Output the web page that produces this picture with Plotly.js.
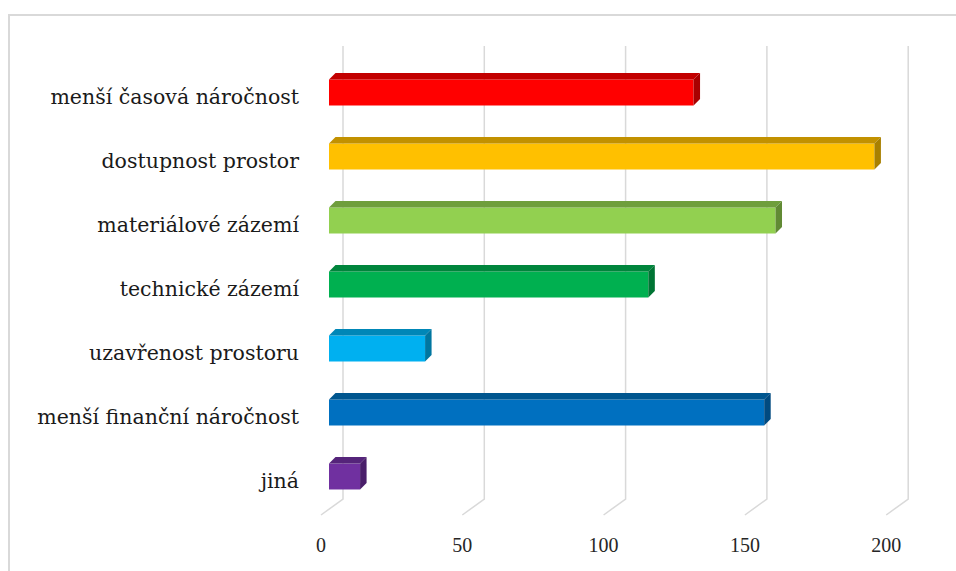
<!DOCTYPE html>
<html>
<head>
<meta charset="utf-8">
<script src="https://cdn.plot.ly/plotly-3.0.1.min.js"></script>
<style>
  html, body { margin: 0; padding: 0; background: #fff; }
  #chart { width: 956px; height: 571px; }
</style>
</head>
<body>
<div id="chart"></div>
<script>
// ---- data (bottom to top) ----
const categories = ['jiná', 'menší finanční náročnost', 'uzavřenost prostoru', 'technické zázemí', 'materiálové zázemí', 'dostupnost prostor', 'menší časová náročnost'];
const values = [11, 154, 34, 113, 158, 193, 129];
const tickVals = [0, 50, 100, 150, 200];
const frontColors = ['#7030A0', '#0070C0', '#00B0F0', '#00B050', '#92D050', '#FFC000', '#FF0000'];
const topColors   = ['#55247A', '#00568F', '#0087B7', '#00853C', '#6F9E3C', '#C29100', '#C20000'];
const sideColors  = ['#4A1F6A', '#004A80', '#0076A0', '#007434', '#618A34', '#A88000', '#A80000'];

// ---- geometry (pixels) ----
const W = 956, H = 571, L = 300, R = 10, T = 40, B = 40;
const plotW = W - L - R, plotH = H - T - B;
const xUnit = 2.826;          // px per value
const floorX0 = 321;          // px of value 0 on the front floor edge (tick labels)
const barX0 = 329;            // px of value 0 on bar front face
const yUnit = 64;             // px per category
const yK0 = 476.5;            // px of first category centre
const barW = 0.406;
const depthPx = 6.5;

const toK = px => (yK0 - px) / yUnit;
const xRange1 = [(L - floorX0) / xUnit, (L + plotW - floorX0) / xUnit];
const xRange2 = [(L - barX0) / xUnit, (L + plotW - barX0) / xUnit];
const yRange = [toK(T + plotH), toK(T)];

const pos = categories.map((c, i) => i);

// gridlines (back wall + floor slant) on the front-floor axis
const gx = [], gy = [];
const backShift = 22 / xUnit;
tickVals.forEach(t => {
  gx.push(t + backShift, t + backShift, t, null);
  gy.push(toK(46), toK(499), toK(515), null);
});
const traces = [{
  type: 'scatter', mode: 'lines', x: gx, y: gy, xaxis: 'x', yaxis: 'y',
  line: { color: '#d9d9d9', width: 1.5 }, hoverinfo: 'skip', showlegend: false
}];

// bars front faces
traces.push({
  type: 'bar', orientation: 'h', x: values, y: pos, base: 0, width: barW,
  xaxis: 'x2', yaxis: 'y',
  marker: { color: frontColors, line: { width: 0 } },
  hoverinfo: 'x', showlegend: false
});

// 3D top and side faces
const dx = depthPx / xUnit, dy = depthPx / yUnit, hw = barW / 2;
values.forEach((v, i) => {
  const k = pos[i];
  traces.push({
    type: 'scatter', mode: 'lines', fill: 'toself', xaxis: 'x2', yaxis: 'y',
    x: [0, v, v + dx, dx, 0],
    y: [k + hw, k + hw, k + hw + dy, k + hw + dy, k + hw],
    fillcolor: topColors[i], line: { width: 0, color: topColors[i] },
    hoverinfo: 'skip', showlegend: false
  });
  traces.push({
    type: 'scatter', mode: 'lines', fill: 'toself', xaxis: 'x2', yaxis: 'y',
    x: [v, v + dx, v + dx, v, v],
    y: [k - hw, k - hw + dy, k + hw + dy, k + hw, k - hw],
    fillcolor: sideColors[i], line: { width: 0, color: sideColors[i] },
    hoverinfo: 'skip', showlegend: false
  });
});

const layout = {
  width: W, height: H,
  margin: { l: L, r: R, t: T, b: B },
  paper_bgcolor: '#ffffff', plot_bgcolor: 'rgba(0,0,0,0)',
  showlegend: false,
  xaxis: {
    range: xRange1, tickvals: tickVals, ticktext: tickVals.map(String),
    showgrid: false, zeroline: false, showline: false, ticks: '',
    tickfont: { family: 'Liberation Serif', size: 20, color: '#262626' },
    fixedrange: true
  },
  xaxis2: {
    range: xRange2, overlaying: 'x', anchor: 'y', visible: false, fixedrange: true
  },
  yaxis: {
    range: yRange, tickvals: pos.map(p => p - 0.07), ticktext: categories,
    showgrid: false, zeroline: false, showline: false, ticks: '',
    tickfont: { family: 'DejaVu Serif', size: 20.5, color: '#1a1a1a' },
    fixedrange: true
  },
  shapes: [{
    type: 'rect', xref: 'paper', yref: 'paper', layer: 'below',
    x0: (9 - L) / plotW, x1: (W + 20 - L) / plotW,
    y0: (T + plotH - (H + 20)) / plotH, y1: (T + plotH - 15) / plotH,
    line: { color: '#d9d9d9', width: 2 }, fillcolor: 'rgba(0,0,0,0)'
  }]
};

Plotly.newPlot('chart', traces, layout, { displayModeBar: false, staticPlot: true });
</script>
</body>
</html>
